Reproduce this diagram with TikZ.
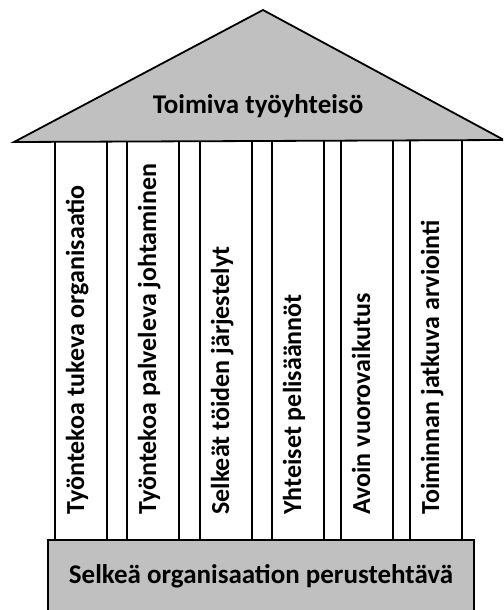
\documentclass[tikz,border=0pt]{standalone}
\usepackage{fontspec}
\setmainfont{Carlito}
\usepackage{tikz}
\usetikzlibrary{calc}
\definecolor{harmaa}{RGB}{192,192,192}

\begin{document}
\begin{tikzpicture}[x = 1pt, y = -1pt, roof/.style = {draw, line width = 1.8pt, fill = harmaa, line join = miter}, pillar/.style = {draw, line width = 1.8pt, fill = white, minimum width = 52pt, minimum height = 410pt, inner sep = 0pt, anchor = north west}, base/.style = {draw, line width = 1.8pt, fill = harmaa, minimum width = 426pt, minimum height = 90pt, inner sep = 0pt, anchor = north}, lbl/.style = {inner sep = 0pt, font = \bfseries\fontsize{27}{32}\selectfont}, plbl/.style = {inner sep = 0pt, rotate = 90, anchor = west, text height = 0.64em, text depth = 0pt, font = \bfseries\fontsize{26}{31}\selectfont}]
      \clip (0, 0) rectangle (503, 610);

      \foreach \x/\txt [count = \i] in {54/{Työntekoa tukeva organisaatio}, 126/{Työntekoa palveleva johtaminen}, 199/{Selkeät töiden järjestelyt}, 271/{Yhteiset pelisäännöt}, 340/{Avoin vuorovaikutus}, 409/{Toiminnan jatkuva arviointi}} {
        \node [pillar] (p\i) at (\x, 130) {};
        \node [plbl] (t\i) at ($ (p\i.south) + (0, -27) $) {\txt};
      }

      \coordinate (rl) at (14, 142);
      \coordinate (rt) at (263, 10);
      \coordinate (rr) at (504, 140);
      \draw [roof] (rl) -- (rt) -- (rr) -- cycle;
      \node [lbl, anchor = base] (katto) at (258, 113) {Toimiva työyhteisö};

      \node [base] (basis) at (261, 539) {};
      \node [lbl, anchor = base] (perus) at ($ (basis.north) + (0, 44) $) {Selkeä organisaation perustehtävä};
    \end{tikzpicture}
\end{document}
